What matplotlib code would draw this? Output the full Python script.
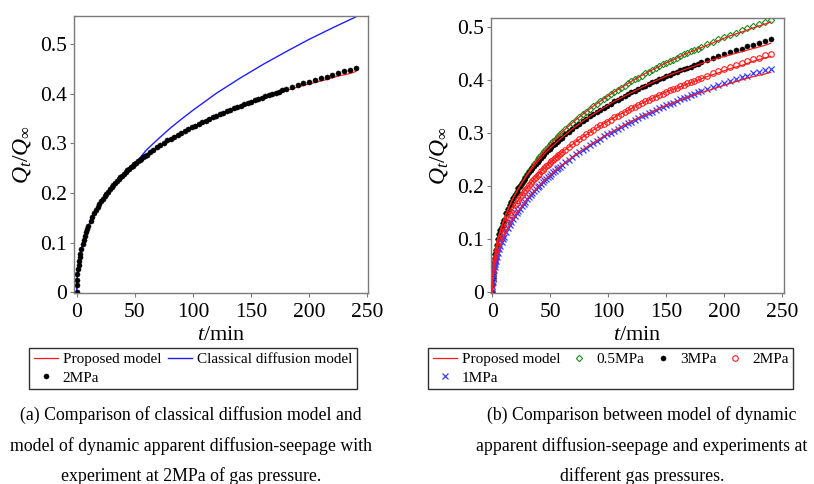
import numpy as np
import matplotlib
matplotlib.use('Agg')
import matplotlib.pyplot as plt

plt.rcParams['font.family'] = ['Liberation Serif', 'DejaVu Serif']
plt.rcParams['mathtext.fontset'] = 'custom'
plt.rcParams['mathtext.rm'] = 'Liberation Serif'
plt.rcParams['mathtext.it'] = 'Liberation Serif:italic'

# sampling times of the experiments (min): dense at first, 5 min apart after 180 min
t_exp = np.concatenate([[0, 0.1, 0.3, 0.6, 1, 1.5, 2, 2.5, 3, 4, 5, 6, 7, 8, 9, 10],
                        np.arange(12, 60.1, 1.5), np.arange(63, 181, 3), np.arange(185, 241, 5)])

# (a) experiment at 2MPa
q_a_2mpa = [0, 0.015, 0.025, 0.036, 0.046, 0.055, 0.064, 0.071, 0.077, 0.088, 0.097, 0.106, 0.113, 0.121, 0.127, 0.133,
            0.144, 0.152, 0.159, 0.165, 0.172, 0.178, 0.183, 0.188, 0.194, 0.198, 0.203, 0.208, 0.212, 0.216, 0.220, 0.224,
            0.228, 0.232, 0.235, 0.239, 0.242, 0.246, 0.249, 0.252, 0.255, 0.258, 0.261, 0.264, 0.267, 0.269, 0.272, 0.275, 0.277,
            0.283, 0.287, 0.292, 0.297, 0.301, 0.306, 0.310, 0.314, 0.318, 0.322, 0.325, 0.329, 0.333,
            0.336, 0.340, 0.343, 0.346, 0.350, 0.353, 0.356, 0.359, 0.362, 0.365,
            0.368, 0.371, 0.373, 0.376, 0.379, 0.382, 0.384, 0.387, 0.389, 0.392,
            0.395, 0.397, 0.400, 0.402, 0.404, 0.407, 0.409,
            0.413, 0.417, 0.421, 0.424, 0.428, 0.432, 0.435, 0.439, 0.443, 0.446, 0.449, 0.453]

# (b) experiments at different gas pressures
q_05mpa = [0, 0.015, 0.026, 0.036, 0.046, 0.056, 0.065, 0.072, 0.079, 0.090, 0.100, 0.109, 0.117, 0.124, 0.131, 0.137,
           0.149, 0.157, 0.164, 0.171, 0.178, 0.184, 0.190, 0.196, 0.201, 0.207, 0.212, 0.218, 0.223, 0.228, 0.233, 0.237,
           0.242, 0.246, 0.251, 0.255, 0.259, 0.263, 0.267, 0.271, 0.274, 0.278, 0.282, 0.285, 0.288, 0.292, 0.295, 0.298, 0.302,
           0.308, 0.314, 0.320, 0.325, 0.331, 0.336, 0.341, 0.346, 0.351, 0.356, 0.360, 0.365, 0.369,
           0.374, 0.378, 0.382, 0.386, 0.390, 0.394, 0.398, 0.402, 0.405, 0.409,
           0.413, 0.416, 0.420, 0.423, 0.427, 0.430, 0.433, 0.436, 0.439, 0.443,
           0.446, 0.449, 0.452, 0.455, 0.457, 0.460, 0.463,
           0.468, 0.472, 0.477, 0.481, 0.486, 0.490, 0.494, 0.498, 0.502, 0.506, 0.510, 0.514]
q_3mpa = [0, 0.015, 0.026, 0.036, 0.046, 0.056, 0.065, 0.072, 0.079, 0.090, 0.100, 0.109, 0.117, 0.124, 0.131, 0.137,
          0.149, 0.157, 0.164, 0.171, 0.178, 0.184, 0.190, 0.196, 0.201, 0.206, 0.211, 0.216, 0.221, 0.226, 0.230, 0.234,
          0.238, 0.242, 0.246, 0.250, 0.254, 0.257, 0.261, 0.264, 0.268, 0.271, 0.274, 0.277, 0.280, 0.283, 0.286, 0.289, 0.292,
          0.298, 0.303, 0.308, 0.313, 0.318, 0.323, 0.327, 0.332, 0.336, 0.340, 0.344, 0.348, 0.352,
          0.356, 0.360, 0.363, 0.367, 0.370, 0.374, 0.377, 0.380, 0.384, 0.387,
          0.390, 0.393, 0.396, 0.399, 0.402, 0.405, 0.408, 0.410, 0.413, 0.416,
          0.419, 0.421, 0.424, 0.426, 0.429, 0.431, 0.434,
          0.438, 0.442, 0.446, 0.449, 0.453, 0.457, 0.460, 0.464, 0.467, 0.471, 0.474, 0.478]
q_2mpa = [0, 0.013, 0.022, 0.032, 0.041, 0.049, 0.057, 0.063, 0.069, 0.079, 0.088, 0.096, 0.103, 0.109, 0.115, 0.121,
          0.132, 0.139, 0.146, 0.152, 0.158, 0.164, 0.169, 0.174, 0.179, 0.184, 0.189, 0.193, 0.197, 0.202, 0.206, 0.210,
          0.213, 0.217, 0.221, 0.224, 0.228, 0.231, 0.235, 0.238, 0.241, 0.244, 0.247, 0.250, 0.253, 0.256, 0.259, 0.261, 0.264,
          0.269, 0.274, 0.279, 0.284, 0.289, 0.293, 0.298, 0.302, 0.306, 0.311, 0.315, 0.318, 0.322,
          0.326, 0.330, 0.333, 0.337, 0.340, 0.344, 0.347, 0.350, 0.354, 0.357,
          0.360, 0.363, 0.366, 0.369, 0.372, 0.375, 0.378, 0.381, 0.383, 0.386,
          0.389, 0.392, 0.394, 0.397, 0.399, 0.402, 0.405,
          0.409, 0.413, 0.417, 0.421, 0.425, 0.429, 0.432, 0.436, 0.440, 0.443, 0.447, 0.450]
q_1mpa = [0, 0.011, 0.019, 0.027, 0.034, 0.042, 0.048, 0.054, 0.059, 0.067, 0.075, 0.082, 0.088, 0.094, 0.100, 0.105,
          0.114, 0.121, 0.127, 0.133, 0.138, 0.144, 0.149, 0.154, 0.158, 0.163, 0.167, 0.171, 0.176, 0.180, 0.183, 0.187,
          0.191, 0.194, 0.198, 0.201, 0.205, 0.208, 0.211, 0.214, 0.217, 0.220, 0.223, 0.226, 0.229, 0.232, 0.234, 0.237, 0.240,
          0.245, 0.250, 0.255, 0.260, 0.264, 0.269, 0.273, 0.278, 0.282, 0.286, 0.290, 0.294, 0.298,
          0.301, 0.305, 0.309, 0.312, 0.316, 0.319, 0.322, 0.326, 0.329, 0.332,
          0.335, 0.338, 0.341, 0.344, 0.347, 0.350, 0.353, 0.356, 0.358, 0.361,
          0.364, 0.367, 0.369, 0.372, 0.374, 0.377, 0.379,
          0.383, 0.387, 0.391, 0.395, 0.398, 0.402, 0.406, 0.409, 0.413, 0.416, 0.419, 0.422]

# proposed model curves
t_model = [0, 0.1, 0.3, 0.6, 1, 1.5, 2, 3, 4, 5, 6, 8, 10, 12, 15, 18, 21, 24, 27, 30,
           36, 42, 48, 54, 60, 69, 78, 87, 96, 105, 114, 123, 132, 141, 150, 159, 168, 177,
           185, 195, 205, 215, 225, 235, 240]
m_a_2mpa = [0, 0.015, 0.025, 0.036, 0.046, 0.055, 0.064, 0.077, 0.088, 0.097, 0.106,
            0.121, 0.133, 0.144, 0.159, 0.172, 0.183, 0.194, 0.203, 0.212,
            0.228, 0.242, 0.255, 0.267, 0.277,
            0.292, 0.306, 0.318, 0.329, 0.340, 0.350, 0.359, 0.368, 0.376, 0.384,
            0.391, 0.398, 0.405, 0.410, 0.417, 0.423, 0.429, 0.436, 0.441, 0.445]
m_05mpa = [0, 0.015, 0.026, 0.036, 0.046, 0.056, 0.065, 0.079, 0.090, 0.100, 0.109,
           0.124, 0.137, 0.149, 0.164, 0.178, 0.190, 0.201, 0.212, 0.223,
           0.242, 0.259, 0.274, 0.288, 0.302,
           0.320, 0.336, 0.351, 0.365, 0.378, 0.390, 0.402, 0.413, 0.423, 0.433,
           0.442, 0.451, 0.459, 0.466, 0.475, 0.484, 0.491, 0.499, 0.506, 0.510]
m_3mpa = [0, 0.015, 0.026, 0.036, 0.046, 0.056, 0.065, 0.079, 0.090, 0.100, 0.109,
          0.124, 0.137, 0.149, 0.164, 0.178, 0.190, 0.201, 0.211, 0.221,
          0.238, 0.254, 0.268, 0.280, 0.292,
          0.308, 0.323, 0.336, 0.348, 0.360, 0.370, 0.380, 0.390, 0.399, 0.408,
          0.415, 0.422, 0.429, 0.435, 0.442, 0.448, 0.454, 0.460, 0.466, 0.470]
m_2mpa = [0, 0.013, 0.022, 0.032, 0.041, 0.049, 0.057, 0.069, 0.079, 0.088, 0.096,
          0.109, 0.121, 0.132, 0.146, 0.158, 0.169, 0.179, 0.189, 0.197,
          0.213, 0.228, 0.241, 0.253, 0.264,
          0.279, 0.293, 0.306, 0.318, 0.330, 0.340, 0.350, 0.360, 0.369, 0.378,
          0.385, 0.393, 0.400, 0.407, 0.414, 0.422, 0.428, 0.436, 0.442, 0.445]
m_1mpa = [0, 0.011, 0.019, 0.027, 0.034, 0.042, 0.048, 0.059, 0.067, 0.075, 0.082,
          0.094, 0.105, 0.114, 0.127, 0.138, 0.149, 0.158, 0.167, 0.176,
          0.191, 0.205, 0.217, 0.229, 0.240,
          0.255, 0.269, 0.282, 0.294, 0.305, 0.316, 0.326, 0.335, 0.344, 0.353,
          0.360, 0.368, 0.375, 0.380, 0.387, 0.394, 0.401, 0.407, 0.412, 0.415]

# classical diffusion model
t_classic = [0, 0.1, 0.3, 0.6, 1, 1.5, 2, 3, 4, 5, 6, 8, 10, 12, 15, 18, 21, 24, 27, 30,
             36, 42, 48, 54, 60, 70, 80, 90, 100, 120, 140, 160, 180, 200, 220, 240]
q_classic = [0, 0.015, 0.025, 0.036, 0.046, 0.055, 0.064, 0.077, 0.088, 0.097, 0.106,
             0.121, 0.133, 0.144, 0.159, 0.172, 0.183, 0.194, 0.203, 0.212,
             0.228, 0.242, 0.256, 0.270, 0.287, 0.309, 0.330, 0.349, 0.367,
             0.401, 0.431, 0.459, 0.485, 0.510, 0.533, 0.555]

x_ticks = [0, 50, 100, 150, 200, 250]
y_ticks = [0, 0.1, 0.2, 0.3, 0.4, 0.5]
y_tick_labels = ['0', '0.1', '0.2', '0.3', '0.4', '0.5']

RED = '#ff1a1a'
BLUE = '#2020ff'
GREEN = '#1e8c1e'


def style_axes(ax):
    ax.set_xticks(x_ticks)
    ax.set_yticks(y_ticks)
    ax.set_yticklabels(y_tick_labels)
    for sp in ax.spines.values():
        sp.set_color('#7a7a7a')
        sp.set_linewidth(1.0)
    ax.tick_params(direction='out', length=3, width=0.8, color='#7a7a7a',
                   labelsize=15.5, pad=2)
    ax.tick_params(axis='x', pad=4)
    ax.set_xlabel(r'$t$/min', fontsize=16, labelpad=3)
    ax.set_ylabel(r'$Q_t/Q_\infty$', fontsize=17, labelpad=5)


fig = plt.figure(figsize=(8.14, 4.84), dpi=100)
W, H = 814, 484

# ---- (a)
ax1 = fig.add_axes([74 / W, 1 - 293 / H, 294 / W, 277 / H])
l_prop, = ax1.plot(t_model, m_a_2mpa, color=RED, lw=0.9)
l_class, = ax1.plot(t_classic, q_classic, color=BLUE, lw=1.0)
p_2, = ax1.plot(t_exp, q_a_2mpa, 'o', color='black', ms=3.7, mew=0.3, ls='none')
ax1.set_xlim(-2.4, 250.6)
ax1.set_ylim(-0.0015, 0.557)
style_axes(ax1)

# ---- (b)
ax2 = fig.add_axes([491 / W, 1 - 293.3 / H, 293 / W, 275 / H])
for m in (m_05mpa, m_3mpa, m_2mpa, m_1mpa):
    l_prop_b, = ax2.plot(t_model, m, color=RED, lw=0.9, zorder=3)
p_05, = ax2.plot(t_exp, q_05mpa, 'D', mfc='none', mec=GREEN, ms=3.2, mew=0.8, ls='none', zorder=2)
p_3, = ax2.plot(t_exp, q_3mpa, 'o', color='black', ms=3.7, mew=0.3, ls='none', zorder=2)
p_2b, = ax2.plot(t_exp, q_2mpa, 'o', mfc='none', mec=RED, ms=4.0, mew=0.8, ls='none', zorder=2)
p_1, = ax2.plot(t_exp, q_1mpa, 'x', color='#3a3aff', ms=4.2, mew=0.9, ls='none', zorder=2)
ax2.set_xlim(-1.1, 251.5)
ax2.set_ylim(-0.002, 0.517)
style_axes(ax2)

leg_kw = dict(loc='upper left', fontsize=11, frameon=True, fancybox=False,
              edgecolor='#303030', framealpha=1, borderpad=0.3, handlelength=1.6,
              handletextpad=0.3, columnspacing=0.45, labelspacing=0.3,
              borderaxespad=0, numpoints=1)

# column-major fill gives rows: [Proposed, Classical] / [2MPa]
leg1 = fig.legend([l_prop, p_2, l_class], ['Proposed model', '2MPa', 'Classical diffusion model'],
                  bbox_to_anchor=(29 / W, 1 - 348 / H), ncol=2, **leg_kw)
leg1.get_frame().set_linewidth(1.0)

leg2 = fig.legend([l_prop_b, p_1, p_05, p_3, p_2b],
                  ['Proposed model', '1MPa', '0.5MPa', '3MPa', '2MPa'],
                  bbox_to_anchor=(428 / W, 1 - 348 / H), ncol=4, **leg_kw)
leg2.get_frame().set_linewidth(1.0)

cap_a = ['(a) Comparison of classical diffusion model and',
         'model of dynamic apparent diffusion-seepage with',
         'experiment at 2MPa of gas pressure.']
cap_b = ['(b) Comparison between model of dynamic',
         'apparent diffusion-seepage and experiments at',
         'different gas pressures.']
for i, y in enumerate([415, 446, 476]):
    fig.text(191 / W, 1 - y / H, cap_a[i], ha='center', va='center', fontsize=12.8)
    fig.text(642 / W, 1 - y / H, cap_b[i], ha='center', va='center', fontsize=12.8)

fig.savefig('out.png', dpi=100)
